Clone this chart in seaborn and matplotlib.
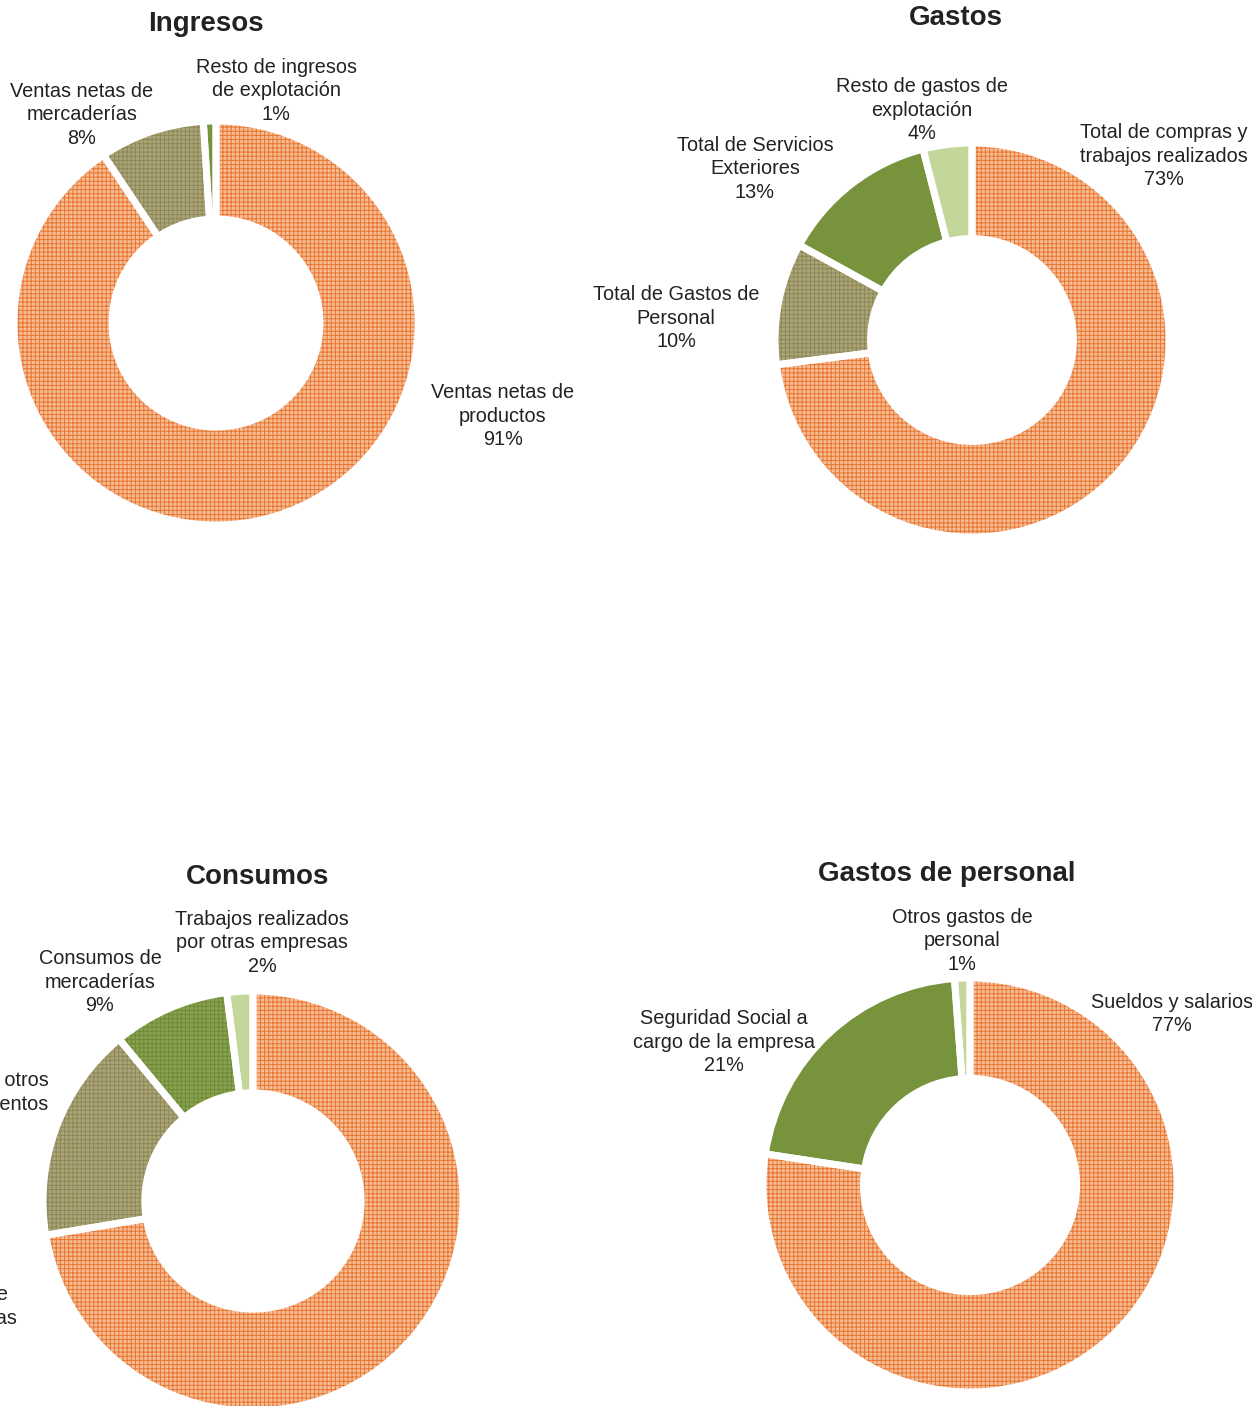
import numpy as np
import matplotlib.pyplot as plt
import seaborn as sns

# ---- data ----
ingresos_labels = ["Ventas netas de\nproductos", "Ventas netas de\nmercaderías",
                   "Resto de ingresos\nde explotación"]
ingresos_values = [90.6, 8.4, 1.0]

gastos_labels = ["Total de compras y\ntrabajos realizados", "Total de Gastos de\nPersonal",
                 "Total de Servicios\nExteriores", "Resto de gastos de\nexplotación"]
gastos_values = [73, 10, 13, 4]

consumos_labels = ["Consumos de\nmaterias primas", "Consumos de otros\naprovisionamientos",
                   "Consumos de\nmercaderías", "Trabajos realizados\npor otras empresas"]
consumos_values = [72.4, 16.6, 9.0, 2.0]

personal_labels = ["Sueldos y salarios", "Seguridad Social a\ncargo de la empresa",
                   "Otros gastos de\npersonal"]
personal_values = [77.4, 21.4, 1.2]

# ---- styling ----
sns.set_theme(style="white")
plt.rcParams['font.family'] = ['Liberation Sans', 'DejaVu Sans']
plt.rcParams['hatch.linewidth'] = 0.7

W, H = 1252, 1406
fig = plt.figure(figsize=(W / 100, H / 100), dpi=100)

ORANGE = ("#F5BD94", "++++", "#EA7430")
OLIVE = ("#ABA478", "++++", "#8E8756")
GREEN_H = ("#87A24D", "++++", "#6F8939")
GREEN = ("#77933C", None, "#77933C")
LIGHT = ("#C4D79B", None, "#C4D79B")

TEXT = "#222222"


def donut(cx, cy, r, values, styles, hole=0.515):
    # axes placed in pixel space so that radius 1 == r pixels
    r = r + 2
    ax = fig.add_axes([(cx - r) / W, 1 - (cy + r) / H, 2 * r / W, 2 * r / H])
    wedges, _ = ax.pie(values, startangle=90, counterclock=False, radius=1,
                       wedgeprops=dict(width=1 - hole, linewidth=0))
    for w, (fc, hatch, hc) in zip(wedges, styles):
        w.set_facecolor(fc)
        w.set_edgecolor(hc)
        w.set_linewidth(0)
        if hatch:
            w.set_hatch(hatch)
    # white separators between slices
    ax.pie(values, startangle=90, counterclock=False, radius=1,
           colors=["none"] * len(values),
           wedgeprops=dict(width=1 - hole, edgecolor="white", linewidth=5))
    ax.set_xlim(-1, 1)
    ax.set_ylim(-1, 1)
    ax.set_axis_off()
    return ax


def title(x, y, s):
    fig.text(x / W, 1 - y / H, s, ha="center", va="center",
             fontsize=20, fontweight="bold", color=TEXT)


def label(x, y, name, value):
    fig.text(x / W, 1 - y / H, f"{name}\n{value:.0f}%", ha="center", va="center",
             fontsize=14.3, color=TEXT, linespacing=1.3)


# Ingresos
title(206, 24, "Ingresos")
donut(216, 323, 200, ingresos_values, [ORANGE, OLIVE, GREEN])
for (x, y), n, v in zip([(503, 416), (82, 115), (276, 91)], ingresos_labels, ingresos_values):
    label(x, y, n, v)

# Gastos
title(956, 18, "Gastos")
donut(972, 340, 195, gastos_values, [ORANGE, OLIVE, GREEN, LIGHT])
for (x, y), n, v in zip([(1164, 156), (676, 318), (755, 169), (922, 110)], gastos_labels, gastos_values):
    label(x, y, n, v)

# Consumos
title(258, 877, "Consumos")
donut(253, 1201, 208, consumos_values, [ORANGE, OLIVE, GREEN_H, LIGHT])
for (x, y), n, v in zip([(-54, 1318), (-38, 1104), (100, 982), (262, 943)], consumos_labels, consumos_values):
    label(x, y, n, v)

# Gastos de personal
title(947, 874, "Gastos de personal")
donut(970, 1185, 205, personal_values, [ORANGE, GREEN, LIGHT])
for (x, y), n, v in zip([(1172, 1014), (724, 1042), (962, 941)], personal_labels, personal_values):
    label(x, y, n, v)

fig.savefig("out.png", dpi=100)
